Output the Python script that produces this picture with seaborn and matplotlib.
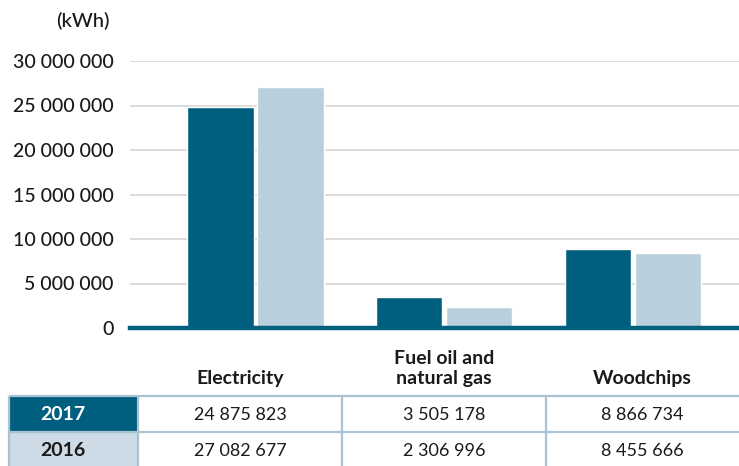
import matplotlib
matplotlib.use("Agg")
import matplotlib.pyplot as plt
import seaborn as sns
import pandas as pd
from matplotlib.patches import Rectangle
from matplotlib.ticker import FuncFormatter

# data
categories = ["Electricity", "Fuel oil and\nnatural gas", "Woodchips"]
years = ["2017", "2016"]
values_2017 = [24875823, 3505178, 8866734]
values_2016 = [27082677, 2306996, 8455666]
y_ticks = [0, 5000000, 10000000, 15000000, 20000000, 25000000, 30000000]

dark = "#005F7E"
light = "#B9CFDD"
light_cell = "#CCDBE6"
border = "#A9C3D2"
text_col = "#1a1a1a"

df = pd.DataFrame({
    "category": categories * 2,
    "year": [years[0]] * 3 + [years[1]] * 3,
    "kwh": values_2017 + values_2016,
})


def fmt(v):
    return f"{int(v):,}".replace(",", " ")


sns.set_theme(style="white")
plt.rcParams["font.family"] = ["Lato", "DejaVu Sans"]

W, H = 739, 466
fig = plt.figure(figsize=(W / 100, H / 100), dpi=100)

# main bar axes
ax = fig.add_axes([130 / W, 1 - 328 / H, 1 - 130 / W, (328 - 61) / H])
sns.barplot(data=df, x="category", y="kwh", hue="year", hue_order=years,
            palette=[dark, light], width=0.74, gap=0.05, ax=ax,
            legend=False, saturation=1)
ax.set_xlim(-0.664, 2.561)
ax.set_ylim(0, 30000000)
ax.set_yticks(y_ticks)
ax.yaxis.set_major_formatter(FuncFormatter(lambda v, p: fmt(v)))
ax.yaxis.grid(True, color="#D9D9D9", linewidth=1.3)
ax.set_axisbelow(True)
for s in ["top", "right", "left"]:
    ax.spines[s].set_visible(False)
ax.spines["bottom"].set_color(dark)
ax.spines["bottom"].set_linewidth(3.2)
ax.set_xlabel("")
ax.set_ylabel("")
ax.set_xticks([])
ax.tick_params(axis="y", length=0, pad=12, labelsize=14, labelcolor=text_col)
for lab in ax.get_yticklabels():
    lab.set_fontweight("medium")

fig.text(110 / W, 1 - 21 / H, "(kWh)", ha="right", va="center",
         fontsize=14.5, color=text_col, fontweight="medium")

# table overlay
tax = fig.add_axes([0, 0, 1, 1])
tax.set_xlim(0, W)
tax.set_ylim(H, 0)
tax.axis("off")

col_edges = [9, 138, 342, 546, 739]
row_edges = [396, 432, 470]
col_centers = [(col_edges[i] + col_edges[i + 1]) / 2 for i in range(1, 4)]

# category headers over the table columns
for cx, cat in zip(col_centers, categories):
    tax.text(cx, 384, cat, ha="center", va="baseline", fontsize=14,
             fontweight="bold", color=text_col, linespacing=1.2)

rows = [values_2017, values_2016]
fills = [dark, light_cell]
label_cols = ["white", text_col]
for r, (yr, vals) in enumerate(zip(years, rows)):
    y0, y1 = row_edges[r], row_edges[r + 1]
    tax.add_patch(Rectangle((col_edges[0], y0), col_edges[1] - col_edges[0],
                            y1 - y0, facecolor=fills[r], edgecolor="none"))
    tax.text(63, 415 + 36 * r, yr,
             ha="center", va="center", fontsize=14, fontweight="bold",
             color=label_cols[r])
    for c, v in enumerate(vals):
        tax.text(col_centers[c], 415 + 36 * r, fmt(v), ha="center",
                 va="center", fontsize=13, fontweight="normal", color=text_col)

# grid lines of the table
for y in row_edges[:2]:
    tax.plot([col_edges[0], W], [y, y], color=border, lw=1.6,
             solid_capstyle="butt")
for x in col_edges[:4]:
    tax.plot([x, x], [row_edges[0], H], color=border, lw=1.6,
             solid_capstyle="butt")

fig.savefig("out.png", dpi=100)
